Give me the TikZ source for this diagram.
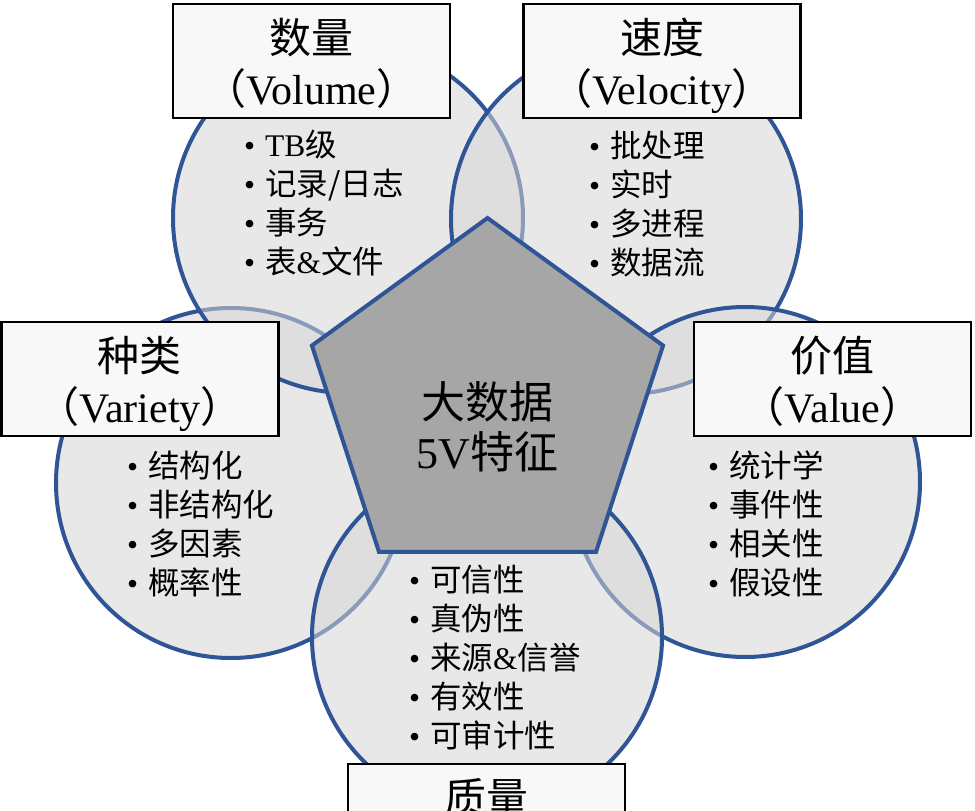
\documentclass[tikz,border=0pt]{standalone}
\usepackage{fontspec}
\setmainfont{Liberation Serif}
\newfontfamily\cjk{Noto Sans CJK SC}
\newcommand{\zh}[1]{{\cjk #1}}
\newcommand{\itm}[1]{\makebox[21pt][l]{\textbullet}#1}
\definecolor{vblue}{RGB}{47,85,151}
\definecolor{boxgray}{RGB}{248,248,248}
\definecolor{coregray}{RGB}{166,166,166}

\begin{document}
\begin{tikzpicture}[x=1pt, y=-1pt,
    ring/.style={draw=vblue, line width=4pt, fill=black!16, fill opacity=0.55},
    titlebox/.style={draw=black, line width=2.8pt, fill=boxgray, inner sep=0pt,
        minimum width=277pt, minimum height=114pt, align=center,
        font=\fontsize{42}{51}\selectfont, text height=96pt, text depth=10pt},
    items/.style={anchor=north west, inner sep=0pt, align=left,
        font=\fontsize{31.5}{39}\selectfont}]
    \path[use as bounding box, clip] (0,0) rectangle (975,811);
    % five rings, later ones on top
    \draw[ring] (231,483) circle[radius=175pt];
    \draw[ring] (348,218) circle[radius=175pt];
    \draw[ring] (626,219) circle[radius=175pt];
    \draw[ring] (745,482) circle[radius=175pt];
    \draw[ring] (487,637) circle[radius=175pt];
    % pentagon in the middle
    \draw[vblue, line width=4pt, fill=coregray, line join=miter, shift={(487.5,402.6)}]
        (-90:184.6) -- (-18:184.6) -- (54:184.6) -- (126:184.6) -- (198:184.6) -- cycle;
    \node[align=center, font=\fontsize{44}{50}\selectfont] (core) at (487.5,427)
        {\zh{大数据}\\5V\zh{特征}};
    % title boxes
    \node[titlebox] (voltitle) at (311.5,61) {\zh{数量}\\\zh{（}Volume\zh{）}};
    \node[titlebox] (veltitle) at (662,61) {\zh{速度}\\\zh{（}Velocity\zh{）}};
    \node[titlebox] (vartitle) at (140,379) {\zh{种类}\\\zh{（}Variety\zh{）}};
    \node[titlebox] (valtitle) at (832.5,379) {\zh{价值}\\\zh{（}Value\zh{）}};
    \node[titlebox] (quatitle) at (486.5,821) {\zh{质量}\\\zh{（}Veracity\zh{）}};
    % bullet lists
    \node[items] (volitems) at (244,130)
        {\itm{TB\zh{级}}\\\itm{\zh{记录/日志}}\\\itm{\zh{事务}}\\\itm{\zh{表}\&\zh{文件}}};
    \node[items] (velitems) at (589,131)
        {\itm{\zh{批处理}}\\\itm{\zh{实时}}\\\itm{\zh{多进程}}\\\itm{\zh{数据流}}};
    \node[items] (varitems) at (127,451)
        {\itm{\zh{结构化}}\\\itm{\zh{非结构化}}\\\itm{\zh{多因素}}\\\itm{\zh{概率性}}};
    \node[items] (valitems) at (708,451)
        {\itm{\zh{统计学}}\\\itm{\zh{事件性}}\\\itm{\zh{相关性}}\\\itm{\zh{假设性}}};
    \node[items] (quaitems) at (409,565)
        {\itm{\zh{可信性}}\\\itm{\zh{真伪性}}\\\itm{\zh{来源}\&\zh{信誉}}\\\itm{\zh{有效性}}\\\itm{\zh{可审计性}}};
\end{tikzpicture}
\end{document}
